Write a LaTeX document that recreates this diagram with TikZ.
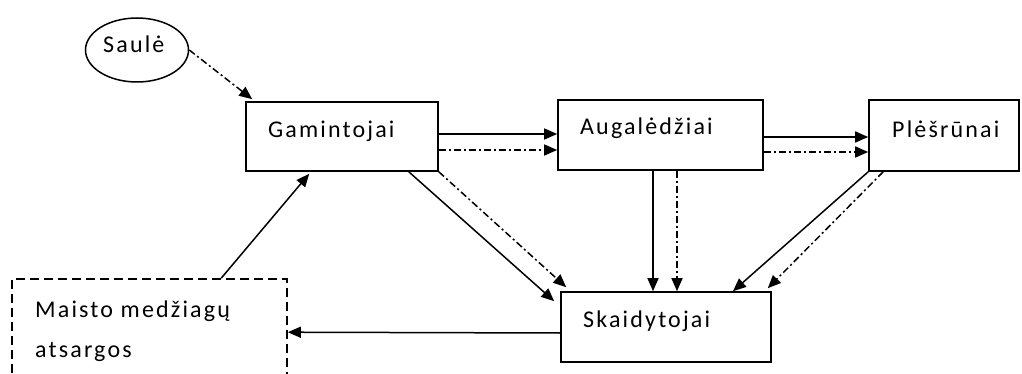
\documentclass[tikz,border=0pt]{standalone}
\usepackage{fontspec}
\setmainfont{Carlito}[LetterSpace=9]
\usetikzlibrary{arrows.meta,calc,shapes.geometric}
\begin{document}
\begin{tikzpicture}[x=1pt,y=-1pt,
  box/.style={draw,line width=1.6pt,rectangle,inner sep=0pt},
  lbl/.style={inner sep=0pt,anchor=base west,font=\fontsize{24}{40}\selectfont},
  conn/.style={line width=1.5pt,-{Triangle[length=13pt,width=11pt]}},
  dd/.style={conn,dash pattern=on 7pt off 3pt on 2pt off 3pt}]
\useasboundingbox (0,0) rectangle (1022,374);
% nodes
\node[draw,line width=1.5pt,ellipse,minimum width=103pt,minimum height=64pt,inner sep=0pt] (sun) at (137,50) {};
\node[lbl] (sunt) at (103,53) {Saulė};
\node[box,minimum width=192pt,minimum height=69pt] (gam) at (342,136.5) {};
\node[lbl] (gamt) at (268,138) {Gamintojai};
\node[box,minimum width=205pt,minimum height=70pt] (aug) at (660.5,135) {};
\node[lbl] (augt) at (580,135) {Augalėdžiai};
\node[box,minimum width=150pt,minimum height=71pt] (ple) at (944,135.5) {};
\node[lbl] (plet) at (892,138) {Plėšrūnai};
\node[box,minimum width=210pt,minimum height=70pt] (ska) at (666,327) {};
\node[lbl] (skat) at (583,327) {Skaidytojai};
\node[box,dash pattern=on 9pt off 5pt,minimum width=275pt,minimum height=121pt] (mai) at (149.5,339.5) {};
\node[lbl,align=left] (mait) at (35,357) {Maisto medžiagų\\atsargos};
% connectors
\draw[dd] (sun.east) -- ($(gam.north west)+(7,-2)$);
\draw[conn] ($(gam.east)+(0,-2.5)$) -- ($(aug.west)+(0,-1)$);
\draw[dd] ($(gam.east)+(0,13.5)$) -- ($(aug.west)+(0,15)$);
\draw[conn] ($(aug.east)+(0,2)$) -- ($(ple.west)+(0,1.5)$);
\draw[dd] ($(aug.east)+(0,17)$) -- ($(ple.west)+(0,16.5)$);
\draw[conn] ($(gam.south east)+(-30,0)$) -- ($(ska.north west)+(-6,10)$);
\draw[dd] (gam.south east) -- ($(ska.north west)+(6,-4)$);
\draw[conn] ($(aug.south)+(-7.5,0)$) -- ($(ska.north)+(-13,0)$);
\draw[dd] ($(aug.south)+(16.5,0)$) -- ($(ska.north)+(11,0)$);
\draw[conn] (ple.south west) -- ($(ska.north)+(67,0)$);
\draw[dd] ($(ple.south west)+(15,0)$) -- ($(ska.north east)+(-4,-3)$);
\draw[conn] ($(ska.west)+(0,6)$) -- ($(mai.north east)+(0,54)$);
\draw[conn] ($(mai.north west)+(210,0)$) -- ($(gam.south west)+(64,2)$);
\end{tikzpicture}
\end{document}
